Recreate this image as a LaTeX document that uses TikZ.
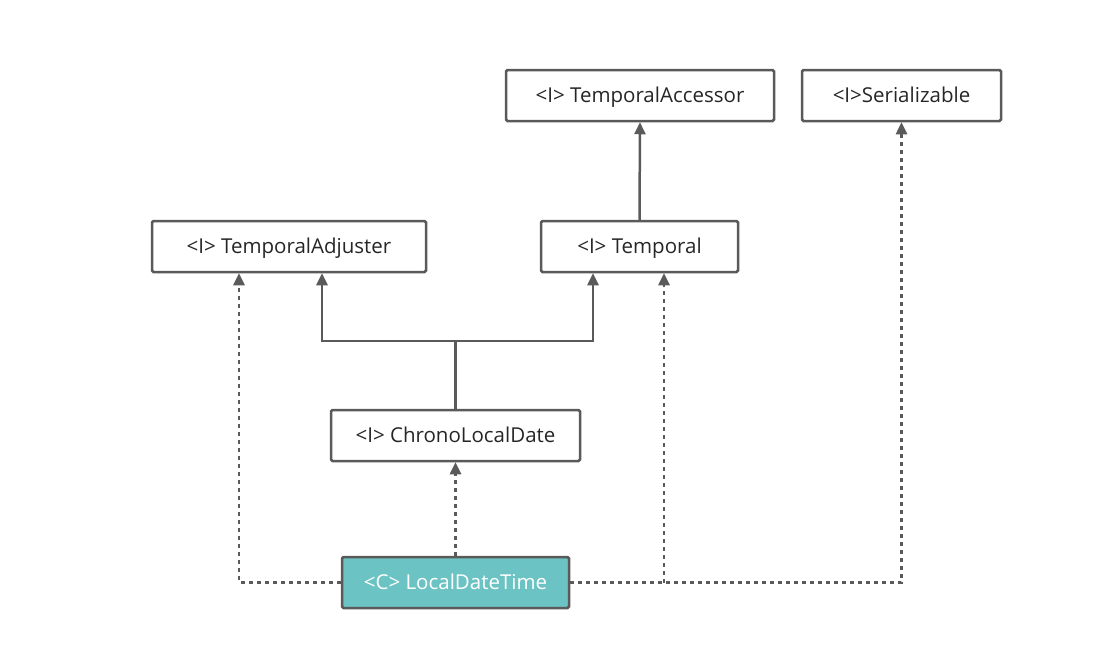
\documentclass[tikz,border=0pt]{standalone}
\usepackage{fontspec}
\setmainfont{Open Sans}
\usetikzlibrary{arrows.meta}

\definecolor{edge}{HTML}{5A5A5A}
\definecolor{teal}{HTML}{6CC3C3}

\begin{document}
\begin{tikzpicture}[x=1pt, y=-1pt,
  box/.style={draw=edge, line width=2.5pt, rounded corners=1.5pt, shape=rectangle,
    minimum height=51pt, inner sep=0pt, text height=18.6pt, text depth=4pt,
    font=\fontsize{20.5}{24}\selectfont, text=black!85},
  gen/.style={draw=edge, line width=2.5pt, -{Triangle[width=11pt,length=12pt]}},
  dep/.style={gen, dash pattern=on 4pt off 4pt}
]
\useasboundingbox (0,0) rectangle (1120,656);
\node [box, minimum width=268pt] (acc) at (640, 95.5)  {<I> TemporalAccessor};
\node [box, minimum width=199pt] (ser) at (901.5, 95.5) {<I>Serializable};
\node [box, minimum width=274pt] (adj) at (289, 246.5) {<I> TemporalAdjuster};
\node [box, minimum width=197pt] (tmp) at (639.5, 246.5) {<I> Temporal};
\node [box, minimum width=249pt] (cld) at (455.5, 435.5) {<I> ChronoLocalDate};
\node [box, minimum width=227pt, fill=teal, text=white] (ldt) at (455.5, 582.5) {<C> LocalDateTime};

% solid: extends
\draw [gen] (tmp.north) -- (acc.south);
\coordinate (fork) at (455.5, 341);
\draw [draw=edge, line width=2.5pt] (cld.north) -- (fork);
\draw [gen] (fork) -| ([xshift=33pt]adj.south);
\draw [gen] (fork) -| ([xshift=-46.5pt]tmp.south);

% dashed: implements
\draw [dep] (ldt.north) -- (cld.south);
\draw [dep] (ldt.west) -| ([xshift=-50pt]adj.south);
\draw [dep] (ldt.east) -| (ser.south);
\coordinate (tj) at (664, 582.5);
\draw [dep] (tj) -- (tj |- tmp.south);
\end{tikzpicture}
\end{document}
